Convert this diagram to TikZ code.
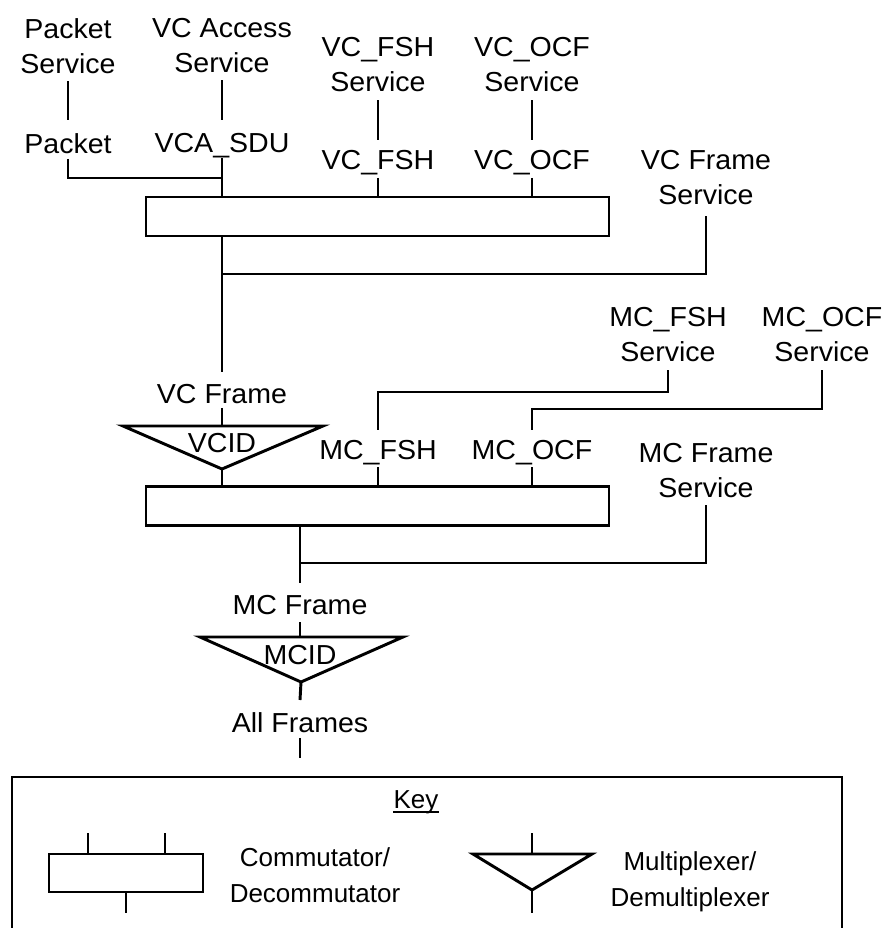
\documentclass[tikz,border=0pt]{standalone}
\usepackage{fontspec}
\setmainfont{Liberation Sans}[FakeStretch=1.04]
\newfontfamily\keyfont{Liberation Sans}
\usetikzlibrary{calc}
\tikzset{
  lbl/.style={anchor=north, inner sep=0pt, align=center,
    font=\fontsize{20.6pt}{26.25pt}\selectfont},
  single/.style={lbl, text depth=0pt},
  keytxt/.style={anchor=north, inner sep=0pt, align=center,
    font=\keyfont\fontsize{19.5pt}{27pt}\selectfont},
  wire/.style={line width=2.2pt},
  combox/.style={draw, line width=2.2pt, rectangle, inner sep=0pt,
    minimum width=347.25pt, minimum height=29.25pt},
}
\begin{document}
\begin{tikzpicture}[x=0.75pt,y=-0.75pt]
\useasboundingbox (0,0) rectangle (884,928);

% ---- labels ----
\node[lbl] (pktsvc)   at (68,18)  {Packet\\Service};
\node[lbl] (vcasvc)   at (222,18) {VC Access\\Service};
\node[lbl] (vcfshsvc) at (378,37)  {VC\_FSH\\Service};
\node[lbl] (vcocfsvc) at (532,37)  {VC\_OCF\\Service};
\node[single] (pkt)    at (68,133)  {Packet};
\node[single] (vcasdu) at (222,133) {VCA\_SDU};
\node[single] (vcfsh)  at (378,150) {VC\_FSH};
\node[single] (vcocf)  at (532,150) {VC\_OCF};
\node[lbl] (vcfsvc)   at (706,150) {VC Frame\\Service};
\node[single] (vcframe) at (222,384) {VC Frame};
\node[single] (vcid)    at (222,433) {VCID};
\node[lbl] (mcfshsvc) at (668,307) {MC\_FSH\\Service};
\node[lbl] (mcocfsvc) at (822,307) {MC\_OCF\\Service};
\node[single] (mcfsh)  at (378,440) {MC\_FSH};
\node[single] (mcocf)  at (532,440) {MC\_OCF};
\node[lbl] (mcfsvc)   at (706,443) {MC Frame\\Service};
\node[single] (mcframe) at (300,595) {MC Frame};
\node[single] (mcid)    at (300,645) {MCID};
\node[single] (allfr)   at (300,712) {All Frames};

% ---- commutators ----
\node[combox] (box1) at (377.5,216.5) {};
\node[combox] (box2) at (377.5,506) {};

% ---- multiplexer triangles ----
\coordinate (vcidL) at (123,426);
\coordinate (vcidR) at (323,426);
\coordinate (vcidA) at (222,469);
\draw[wire] (vcidL) -- (vcidR) -- (vcidA) -- cycle;
\coordinate (mcidL) at (200,637);
\coordinate (mcidR) at (403,637);
\coordinate (mcidA) at (301,682);
\draw[wire] (mcidL) -- (mcidR) -- (mcidA) -- cycle;

% ---- junction points ----
\coordinate (j1) at (222,178);
\coordinate (j2) at (222,274);
\coordinate (j3) at (378,392);
\coordinate (j4) at (532,409);
\coordinate (j5) at (300,563);
\coordinate (out) at (300,758);

% ---- connectors ----
\draw[wire] ([yshift=-5.5pt]pktsvc.south) -- ([yshift=9.75pt]pkt.north);
\draw[wire] ([yshift=-5.5pt]vcasvc.south) -- ([yshift=9.75pt]vcasdu.north);
\draw[wire] ([yshift=-6.2pt]vcfshsvc.south) -- ([yshift=7.5pt]vcfsh.north);
\draw[wire] ([yshift=-6.2pt]vcocfsvc.south) -- ([yshift=7.5pt]vcocf.north);
\draw[wire] ([yshift=-4pt]pkt.south) |- (j1);
\draw[wire] ([yshift=-4pt]vcasdu.south) -- (vcasdu.south |- box1.north);
\draw[wire] ([yshift=-6.2pt]vcfsh.south) -- (vcfsh.south |- box1.north);
\draw[wire] ([yshift=-6.2pt]vcocf.south) -- (vcocf.south |- box1.north);
\draw[wire] (vcframe.north |- box1.south) -- ([yshift=9pt]vcframe.north);
\draw[wire] ([yshift=-8.4pt]vcfsvc.south) |- (j2);
\draw[wire] ([yshift=-3.2pt]vcframe.south) -- (vcframe.south |- vcidL);
\draw[wire] (vcidA) -- (vcidA |- box2.north);
\draw[wire] ([yshift=-6.2pt]mcfshsvc.south) |- (j3) -- ([yshift=7.5pt]mcfsh.north);
\draw[wire] ([yshift=-6.2pt]mcocfsvc.south) |- (j4) -- ([yshift=7.5pt]mcocf.north);
\draw[wire] ([yshift=-5.5pt]mcfsh.south) -- (mcfsh.south |- box2.north);
\draw[wire] ([yshift=-5.5pt]mcocf.south) -- (mcocf.south |- box2.north);
\draw[wire] (mcframe.north |- box2.south) -- ([yshift=9pt]mcframe.north);
\draw[wire] ([yshift=-5.5pt]mcfsvc.south) |- (j5);
\draw[wire] ([yshift=-5.5pt]mcframe.south) -- (mcframe.south |- mcidL);
\draw[wire] (mcidA) -- ([yshift=9pt]allfr.north);
\draw[wire] ([yshift=-4pt]allfr.south) -- (out);

% ---- key ----
\draw[wire] (12,930) -- (12,777) -- (842,777) -- (842,930);
\node[keytxt, text depth=0pt] (key) at (416,790) {Key};
\draw[line width=1.5pt] ([yshift=-2.6pt]key.south west) -- ([yshift=-2.6pt]key.south east);
\node[draw, line width=2.2pt, inner sep=0pt, minimum width=115.5pt,
      minimum height=28.5pt] (kbox) at (126,873) {};
\draw[wire] (88,833) -- (88,854);
\draw[wire] (165,833) -- (165,854);
\draw[wire] (126,892) -- (126,913);
\node[keytxt] (comtxt) at (315,847) {Commutator/\\Decommutator};
\coordinate (kL) at (473,854);
\coordinate (kR) at (592,854);
\coordinate (kA) at (532,890);
\draw[wire] (kL) -- (kR) -- (kA) -- cycle;
\draw[wire] (532,833) -- (kL -| kA);
\draw[wire] (kA) -- (532,913);
\node[keytxt] (muxtxt) at (690,851) {Multiplexer/\\Demultiplexer};
\end{tikzpicture}
\end{document}
